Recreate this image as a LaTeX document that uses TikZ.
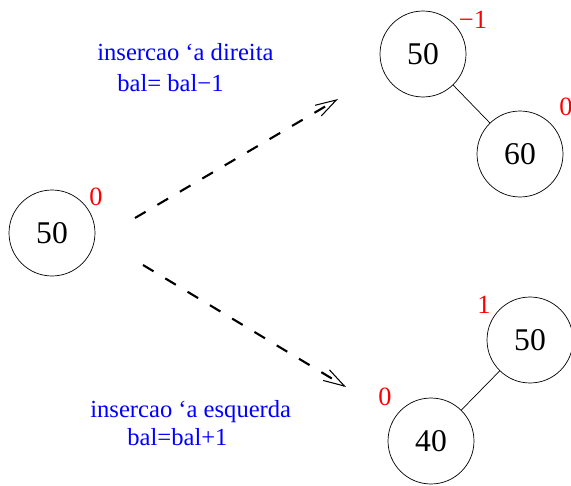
\documentclass[tikz,border=0pt]{standalone}
\usepackage{fontspec}
\setmainfont{Liberation Serif}
\usetikzlibrary{arrows.meta}

\begin{document}
\begin{tikzpicture}[
		x=0.02cm, y=-0.02cm,
		treenode/.style={draw=black, thin, circle, minimum size=1.72cm, inner sep=0pt, font=\fontsize{18}{21}\selectfont},
		balance/.style={text=red, font=\fontsize{15}{17}\selectfont, inner sep=0pt},
		caption/.style={text=blue, font=\fontsize{14}{16}\selectfont, anchor=base west, inner sep=0pt},
		insert/.style={dashed, dash pattern=on 7pt off 7.8pt, line width=1.2pt,
			-{Straight Barb[length=12pt, width=7pt, line width=0.6pt]}},
		edge/.style={draw=black, thin}
		]
		\useasboundingbox (0,0) rectangle (571,486);
		
		% 1. Starting tree
		\node[treenode] (root) at (52,233) {50};
		\node[balance] (rootbal) at (96,197) {0};
		
		% 2. Right insertion
		\node[treenode] (rA) at (423,54) {50};
		\node[treenode] (rB) at (520,154) {60};
		\node[balance] (rAbal) at (473,20) {−1};
		\node[balance] (rBbal) at (566,107) {0};
		\draw[edge] (rA) -- (rB);
		
		% 3. Left insertion
		\node[treenode] (lA) at (530,340) {50};
		\node[treenode] (lB) at (431,441) {40};
		\node[balance] (lAbal) at (484,305) {1};
		\node[balance] (lBbal) at (385,397) {0};
		\draw[edge] (lA) -- (lB);
		
		% Arrow ends
		\coordinate (upfrom) at (135,218);
		\coordinate (upto) at (338,99);
		\coordinate (downfrom) at (143,265);
		\coordinate (downto) at (346,387);
		\draw[insert] (upfrom) -- (upto);
		\draw[insert] (downfrom) -- (downto);
		
		% Captions
		\node[caption] (rtext) at (97,61) {insercao ‘a direita};
		\node[caption] (rcalc) at (117,92) {bal= bal−1};
		\node[caption] (ltext) at (90,417) {insercao ‘a esquerda};
		\node[caption] (lcalc) at (127,445) {bal=bal+1};
		
	\end{tikzpicture}
\end{document}
